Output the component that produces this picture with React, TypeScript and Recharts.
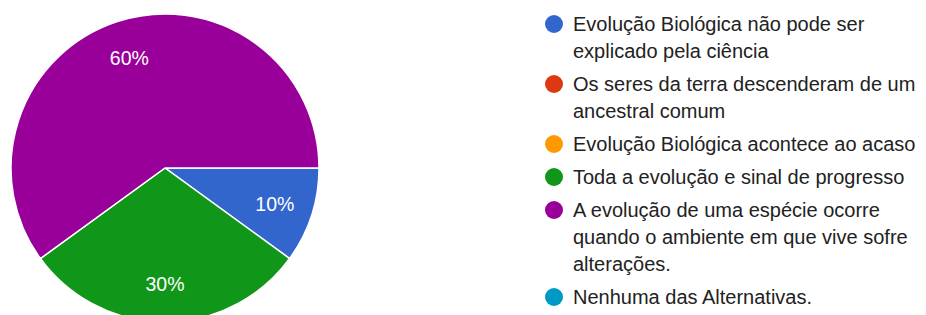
import { PieChart, Pie, Cell, Legend } from 'recharts';

const answers = [
    'Evolução Biológica não pode ser\nexplicado pela ciência',
    'Os seres da terra descenderam de um\nancestral comum',
    'Evolução Biológica acontece ao acaso',
    'Toda a evolução e sinal de progresso',
    'A evolução de uma espécie ocorre\nquando o ambiente em que vive sofre\nalterações.',
    'Nenhuma das Alternativas.',
];
const shares = [10, 0, 0, 30, 60, 0];
const colors = ['#3366cc', '#dc3912', '#ff9900', '#109618', '#990099', '#0099c6'];

const data = answers.map((name, i) => ({ name, value: shares[i] }));

const RAD = Math.PI / 180;
const FONT = '"Liberation Sans", Arial, sans-serif';

function SliceLabel({ cx, cy, midAngle, outerRadius, percent }: any) {
    if (!percent) return null;
    const r = outerRadius * 0.75;
    const x = cx + r * Math.cos(-midAngle * RAD);
    const y = cy + r * Math.sin(-midAngle * RAD);
    return (
        <text x={x} y={y} fill="#ffffff" fontSize={19.5} fontFamily={FONT} textAnchor="middle" dominantBaseline="central">
            {Math.round(percent * 100)}%
        </text>
    );
}

function AnswerLegend() {
    return (
        <div style={{ fontFamily: FONT, fontSize: 20, color: '#222222' }}>
            {answers.map((label, i) => (
                <div key={label} style={{ display: 'flex', alignItems: 'flex-start', marginBottom: 6 }}>
                    <div style={{ width: 18, height: 18, borderRadius: '50%', background: colors[i], marginTop: 4.5, flexShrink: 0 }} />
                    <div style={{ marginLeft: 10, lineHeight: '27px', whiteSpace: 'pre' }}>{label}</div>
                </div>
            ))}
        </div>
    );
}

export default function App() {
    return (
        <PieChart width={918} height={307} margin={{ top: 0, right: 0, bottom: 0, left: 0 }}>
            <Pie
                data={data}
                dataKey="value"
                nameKey="name"
                cx={157}
                cy={160}
                outerRadius={154}
                startAngle={0}
                endAngle={-360}
                labelLine={false}
                label={<SliceLabel />}
                isAnimationActive={false}
            >
                {data.map((d, i) => (
                    <Cell key={d.name} fill={colors[i]} stroke={d.value > 0 ? '#ffffff' : 'none'} strokeWidth={1.5} />
                ))}
            </Pie>
            <Legend
                content={() => <AnswerLegend />}
                wrapperStyle={{ position: 'absolute', left: 537, top: 2.5, width: 372 }}
            />
        </PieChart>
    );
}
